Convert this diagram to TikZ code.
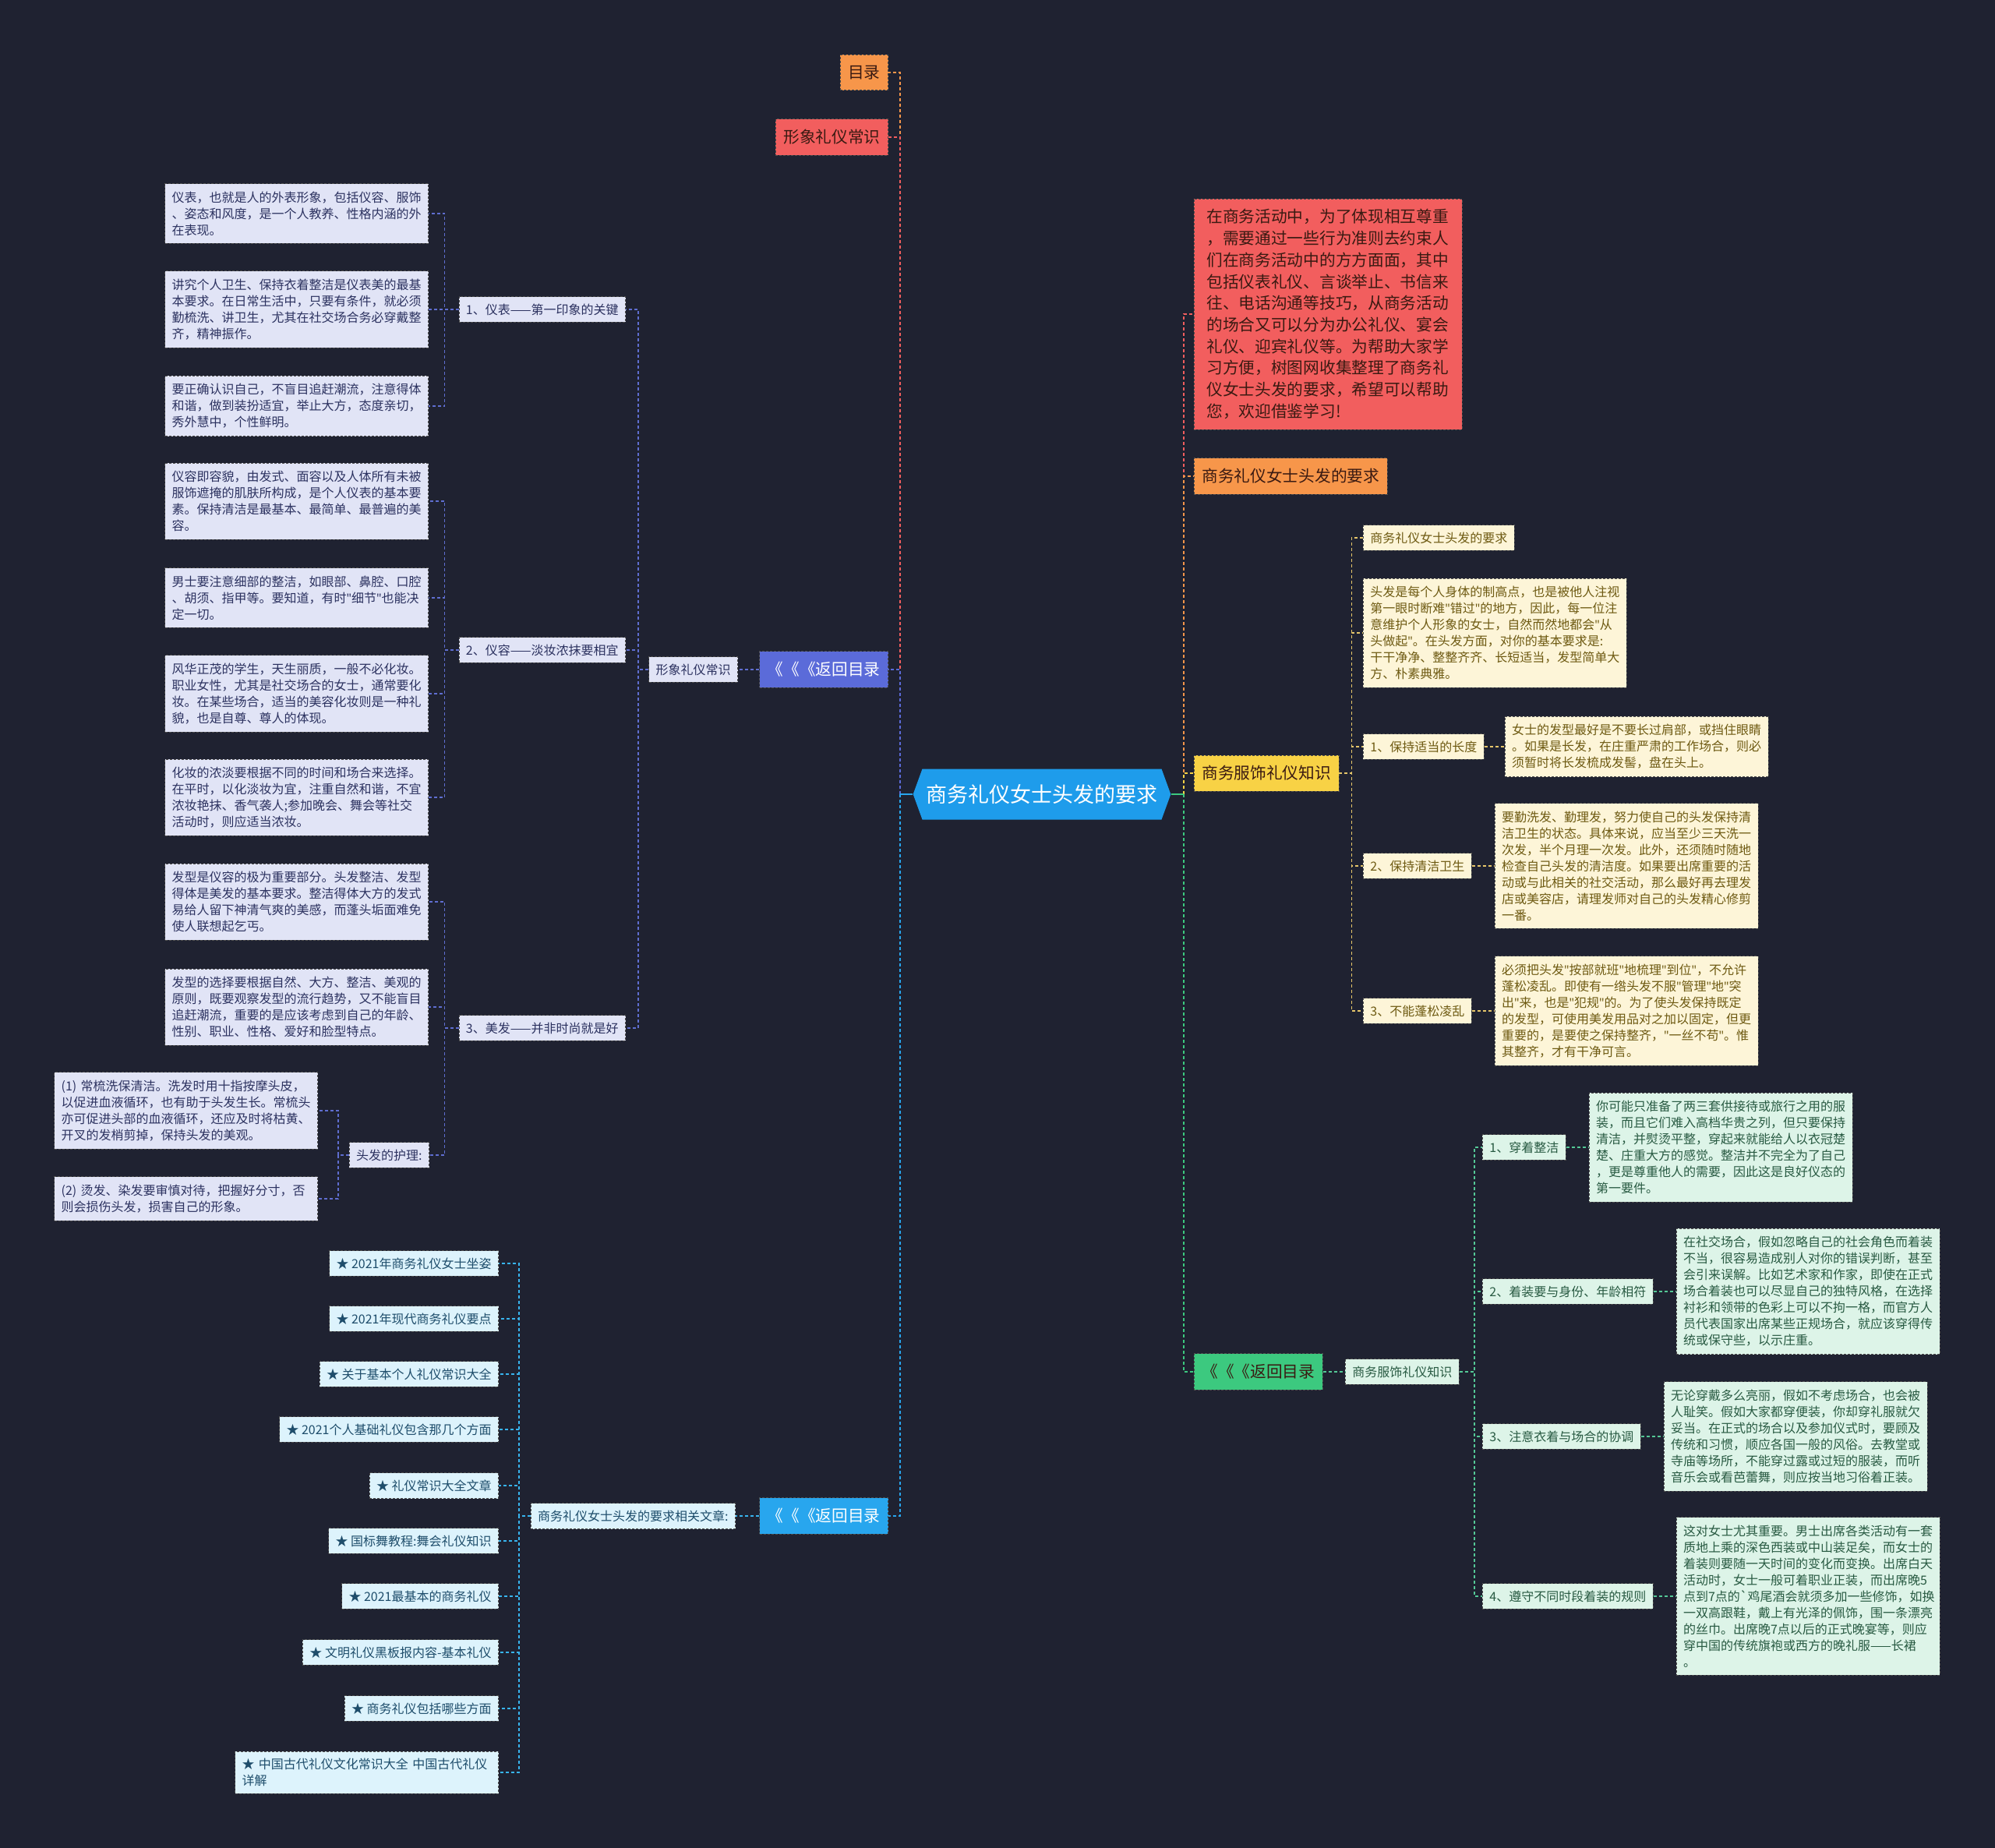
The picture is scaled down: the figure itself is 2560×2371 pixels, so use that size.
\documentclass[tikz,border=0pt]{standalone}
\usepackage{fontspec}
\setmainfont{Noto Sans CJK SC}
\newfontfamily\qfont{Noto Sans}
\newcommand{\dq}{{\qfont"}}
\usetikzlibrary{positioning, shapes.symbols}
\definecolor{bgdark}{HTML}{1F2231}
\definecolor{rootblue}{HTML}{1E9CEB}
\definecolor{orangeb}{HTML}{F7964A}
\definecolor{redb}{HTML}{F25E5E}
\definecolor{purpb}{HTML}{5B6BD9}
\definecolor{cyanb}{HTML}{28A6EE}
\definecolor{yellowb}{HTML}{F8D245}
\definecolor{greenb}{HTML}{3CC97F}
\definecolor{pfill}{HTML}{E1E4F6}
\definecolor{ptext}{HTML}{2C3260}
\definecolor{pline}{HTML}{5F6ED0}
\definecolor{cfill}{HTML}{DDF3FC}
\definecolor{ctext}{HTML}{1E4D6B}
\definecolor{cline}{HTML}{38B4EE}
\definecolor{yfill}{HTML}{FDF5D8}
\definecolor{ytext}{HTML}{6E5A12}
\definecolor{yline}{HTML}{E6C66A}
\definecolor{gfill}{HTML}{DDF4E8}
\definecolor{gtext}{HTML}{285A42}
\definecolor{gline}{HTML}{54C896}
\definecolor{darktxt}{HTML}{3A1A12}
\tikzset{
    root/.style={
        signal, signal to=west and east, signal pointer angle=140,
        fill=rootblue, draw=none, text=white,
        minimum height=65pt, inner xsep=5pt,
        font=\fontsize{27}{32}\selectfont
    },
    topic/.style={
        rectangle, draw=black!70, line width=0.8pt, dash pattern=on 3pt off 2pt,
        inner xsep=10pt, inner ysep=13.5pt, text=darktxt,
        font=\fontsize{20.7}{27.7}\selectfont, align=left
    },
    tag/.style={
        rectangle, draw=black!70, line width=0.8pt, dash pattern=on 3pt off 2pt,
        inner xsep=9pt, inner ysep=9pt,
        font=\fontsize{16}{21}\selectfont, align=left
    },
    leaf/.style={tag, text width=320pt, inner ysep=10pt},
    ptag/.style={tag, fill=pfill, text=ptext},
    pleaf/.style={leaf, fill=pfill, text=ptext},
    ctag/.style={tag, fill=cfill, text=ctext},
    ytag/.style={tag, fill=yfill, text=ytext},
    yleaf/.style={leaf, fill=yfill, text=ytext},
    gtag/.style={tag, fill=gfill, text=gtext},
    gleaf/.style={leaf, fill=gfill, text=gtext},
    mline/.style={draw=#1, line width=2pt, dash pattern=on 4pt off 3pt},
    sline/.style={draw=#1, line width=1.5pt, dash pattern=on 4pt off 3pt}
}

\begin{document}
\begin{tikzpicture}[x=1pt, y=-1pt]
    \fill[bgdark] (0,0) rectangle (2560,2371);
    \useasboundingbox (0,0) rectangle (2560,2371);

    \node[root] (root) at (1337,1019) {商务礼仪女士头发的要求};

    % left topics
    \node[topic, fill=orangeb, anchor=east] (mulu) at (1140,93) {目录};
    \node[topic, fill=redb, anchor=east] (xingxiang) at (1140,176) {形象礼仪常识};
    \node[topic, fill=purpb, text=white, anchor=east] (pback) at (1140,859) {《《《返回目录};
    \node[topic, fill=cyanb, text=white, anchor=east] (cback) at (1140,1945) {《《《返回目录};

    % right topics
    \node[topic, fill=redb, text width=312pt, inner xsep=16pt, anchor=west] (intro) at (1532,403)
        {在商务活动中，为了体现相互尊重\\，需要通过一些行为准则去约束人\\们在商务活动中的方方面面，其中\\包括仪表礼仪、言谈举止、书信来\\往、电话沟通等技巧，从商务活动\\的场合又可以分为办公礼仪、宴会\\礼仪、迎宾礼仪等。为帮助大家学\\习方便，树图网收集整理了商务礼\\仪女士头发的要求，希望可以帮助\\您，欢迎借鉴学习!};
    \node[topic, fill=orangeb, anchor=west] (req) at (1532,611) {商务礼仪女士头发的要求};
    \node[topic, fill=yellowb, anchor=west] (fushi) at (1532,992) {商务服饰礼仪知识};
    \node[topic, fill=greenb, anchor=west] (gback) at (1532,1760) {《《《返回目录};

    % purple branch
    \node[ptag, anchor=east] (psub) at (947,859) {形象礼仪常识};
    \node[ptag, anchor=east] (yibiao) at (803,397) {1、仪表——第一印象的关键};
    \node[ptag, anchor=east] (yirong) at (803,834) {2、仪容——淡妆浓抹要相宜};
    \node[ptag, anchor=east] (meifa) at (803,1319) {3、美发——并非时尚就是好};
    \node[pleaf, anchor=east] (t1) at (550,274)
        {仪表，也就是人的外表形象，包括仪容、服饰\\、姿态和风度，是一个人教养、性格内涵的外\\在表现。};
    \node[pleaf, anchor=east] (t2) at (550,397)
        {讲究个人卫生、保持衣着整洁是仪表美的最基\\本要求。在日常生活中，只要有条件，就必须\\勤梳洗、讲卫生，尤其在社交场合务必穿戴整\\齐，精神振作。};
    \node[pleaf, anchor=east] (t3) at (550,521)
        {要正确认识自己，不盲目追赶潮流，注意得体\\和谐，做到装扮适宜，举止大方，态度亲切，\\秀外慧中，个性鲜明。};
    \node[pleaf, anchor=east] (t4) at (550,643)
        {仪容即容貌，由发式、面容以及人体所有未被\\服饰遮掩的肌肤所构成，是个人仪表的基本要\\素。保持清洁是最基本、最简单、最普遍的美\\容。};
    \node[pleaf, anchor=east] (t5) at (550,767)
        {男士要注意细部的整洁，如眼部、鼻腔、口腔\\、胡须、指甲等。要知道，有时\dq{}细节\dq{}也能决\\定一切。};
    \node[pleaf, anchor=east] (t6) at (550,890)
        {风华正茂的学生，天生丽质，一般不必化妆。\\职业女性，尤其是社交场合的女士，通常要化\\妆。在某些场合，适当的美容化妆则是一种礼\\貌，也是自尊、尊人的体现。};
    \node[pleaf, anchor=east] (t7) at (550,1023)
        {化妆的浓淡要根据不同的时间和场合来选择。\\在平时，以化淡妆为宜，注重自然和谐，不宜\\浓妆艳抹、香气袭人;参加晚会、舞会等社交\\活动时，则应适当浓妆。};
    \node[pleaf, anchor=east] (t8) at (550,1157)
        {发型是仪容的极为重要部分。头发整洁、发型\\得体是美发的基本要求。整洁得体大方的发式\\易给人留下神清气爽的美感，而蓬头垢面难免\\使人联想起乞丐。};
    \node[pleaf, anchor=east] (t9) at (550,1292)
        {发型的选择要根据自然、大方、整洁、美观的\\原则，既要观察发型的流行趋势，又不能盲目\\追赶潮流，重要的是应该考虑到自己的年龄、\\性别、职业、性格、爱好和脸型特点。};
    \node[ptag, anchor=east] (huli) at (551,1482) {头发的护理:};
    \node[pleaf, anchor=east] (h1) at (408,1425)
        {(1) 常梳洗保清洁。洗发时用十指按摩头皮，\\以促进血液循环，也有助于头发生长。常梳头\\亦可促进头部的血液循环，还应及时将枯黄、\\开叉的发梢剪掉，保持头发的美观。};
    \node[pleaf, anchor=east] (h2) at (408,1538)
        {(2) 烫发、染发要审慎对待，把握好分寸，否\\则会损伤头发，损害自己的形象。};

    % cyan branch
    \node[ctag, anchor=east] (rel) at (944,1945) {商务礼仪女士头发的要求相关文章:};
    \node[ctag, anchor=east] (a1) at (640,1621) {★ 2021年商务礼仪女士坐姿};
    \node[ctag, anchor=east] (a2) at (640,1692) {★ 2021年现代商务礼仪要点};
    \node[ctag, anchor=east] (a3) at (640,1763) {★ 关于基本个人礼仪常识大全};
    \node[ctag, anchor=east] (a4) at (640,1834) {★ 2021个人基础礼仪包含那几个方面};
    \node[ctag, anchor=east] (a5) at (640,1906) {★ 礼仪常识大全文章};
    \node[ctag, anchor=east] (a6) at (640,1977) {★ 国标舞教程:舞会礼仪知识};
    \node[ctag, anchor=east] (a7) at (640,2048) {★ 2021最基本的商务礼仪};
    \node[ctag, anchor=east] (a8) at (640,2120) {★ 文明礼仪黑板报内容-基本礼仪};
    \node[ctag, anchor=east] (a9) at (640,2192) {★ 商务礼仪包括哪些方面};
    \node[ctag, anchor=east, text width=320pt] (a10) at (640,2274) {★ 中国古代礼仪文化常识大全 中国古代礼仪\\详解};

    % yellow branch
    \node[ytag, anchor=west] (y0) at (1749,690) {商务礼仪女士头发的要求};
    \node[yleaf, anchor=west] (y1) at (1749,812)
        {头发是每个人身体的制高点，也是被他人注视\\第一眼时断难\dq{}错过\dq{}的地方，因此，每一位注\\意维护个人形象的女士，自然而然地都会\dq{}从\\头做起\dq{}。在头发方面，对你的基本要求是:\\干干净净、整整齐齐、长短适当，发型简单大\\方、朴素典雅。};
    \node[ytag, anchor=west] (y2) at (1749,958) {1、保持适当的长度};
    \node[yleaf, right=26pt of y2] (y2t)
        {女士的发型最好是不要长过肩部，或挡住眼睛\\。如果是长发，在庄重严肃的工作场合，则必\\须暂时将长发梳成发髻，盘在头上。};
    \node[ytag, anchor=west] (y3) at (1749,1111) {2、保持清洁卫生};
    \node[yleaf, right=29pt of y3] (y3t)
        {要勤洗发、勤理发，努力使自己的头发保持清\\洁卫生的状态。具体来说，应当至少三天洗一\\次发，半个月理一次发。此外，还须随时随地\\检查自己头发的清洁度。如果要出席重要的活\\动或与此相关的社交活动，那么最好再去理发\\店或美容店，请理发师对自己的头发精心修剪\\一番。};
    \node[ytag, anchor=west] (y4) at (1749,1297) {3、不能蓬松凌乱};
    \node[yleaf, right=29pt of y4] (y4t)
        {必须把头发\dq{}按部就班\dq{}地梳理\dq{}到位\dq{}，不允许\\蓬松凌乱。即使有一绺头发不服\dq{}管理\dq{}地\dq{}突\\出\dq{}来，也是\dq{}犯规\dq{}的。为了使头发保持既定\\的发型，可使用美发用品对之加以固定，但更\\重要的，是要使之保持整齐，\dq{}一丝不苟\dq{}。惟\\其整齐，才有干净可言。};

    % green branch
    \node[gtag, anchor=west] (gsub) at (1726,1760) {商务服饰礼仪知识};
    \node[gtag, anchor=west] (g1) at (1902,1472) {1、穿着整洁};
    \node[gleaf, right=29pt of g1] (g1t)
        {你可能只准备了两三套供接待或旅行之用的服\\装，而且它们难入高档华贵之列，但只要保持\\清洁，并熨烫平整，穿起来就能给人以衣冠楚\\楚、庄重大方的感觉。整洁并不完全为了自己\\，更是尊重他人的需要，因此这是良好仪态的\\第一要件。};
    \node[gtag, anchor=west] (g2) at (1902,1657) {2、着装要与身份、年龄相符};
    \node[gleaf, right=29pt of g2] (g2t)
        {在社交场合，假如忽略自己的社会角色而着装\\不当，很容易造成别人对你的错误判断，甚至\\会引来误解。比如艺术家和作家，即使在正式\\场合着装也可以尽显自己的独特风格，在选择\\衬衫和领带的色彩上可以不拘一格，而官方人\\员代表国家出席某些正规场合，就应该穿得传\\统或保守些，以示庄重。};
    \node[gtag, anchor=west] (g3) at (1902,1843) {3、注意衣着与场合的协调};
    \node[gleaf, right=29pt of g3] (g3t)
        {无论穿戴多么亮丽，假如不考虑场合，也会被\\人耻笑。假如大家都穿便装，你却穿礼服就欠\\妥当。在正式的场合以及参加仪式时，要顾及\\传统和习惯，顺应各国一般的风俗。去教堂或\\寺庙等场所，不能穿过露或过短的服装，而听\\音乐会或看芭蕾舞，则应按当地习俗着正装。};
    \node[gtag, anchor=west] (g4) at (1902,2048) {4、遵守不同时段着装的规则};
    \node[gleaf, right=29pt of g4] (g4t)
        {这对女士尤其重要。男士出席各类活动有一套\\质地上乘的深色西装或中山装足矣，而女士的\\着装则要随一天时间的变化而变换。出席白天\\活动时，女士一般可着职业正装，而出席晚5\\点到7点的\textasciigrave 鸡尾酒会就须多加一些修饰，如换\\一双高跟鞋，戴上有光泽的佩饰，围一条漂亮\\的丝巾。出席晚7点以后的正式晚宴等，则应\\穿中国的传统旗袍或西方的晚礼服——长裙\\。};

    % main connectors, left
    \draw[mline=orangeb] (root.west) ++(-16,0) |- (mulu.east);
    \draw[mline=redb] (root.west) ++(-16,0) |- (xingxiang.east);
    \draw[mline=purpb] (root.west) ++(-16,0) |- (pback.east);
    \draw[mline=cyanb] (root.west) ++(-16,0) |- (cback.east);
    \draw[cyanb, line width=2pt] (root.west) -- ++(-16,0);

    % main connectors, right
    \draw[mline=redb] (root.east) ++(16,0) |- (intro.west);
    \draw[mline=orangeb] (root.east) ++(16,0) |- (req.west);
    \draw[mline=yellowb] (root.east) ++(16,0) |- (fushi.west);
    \draw[mline=greenb] (root.east) ++(16,0) |- (gback.west);
    \draw[greenb, line width=2pt] (root.east) -- ++(16,0);

    % purple branch connectors
    \draw[sline=pline] (pback.west) -- (psub.east);
    \draw[sline=pline] (psub.west) -- ++(-13,0) |- (yibiao.east);
    \draw[sline=pline] (psub.west) -- ++(-13,0) |- (yirong.east);
    \draw[sline=pline] (psub.west) -- ++(-13,0) |- (meifa.east);
    \draw[sline=pline] (yibiao.west) -- ++(-18,0) |- (t1.east);
    \draw[sline=pline] (yibiao.west) -- ++(-18,0) |- (t2.east);
    \draw[sline=pline] (yibiao.west) -- ++(-18,0) |- (t3.east);
    \draw[sline=pline] (yirong.west) -- ++(-18,0) |- (t4.east);
    \draw[sline=pline] (yirong.west) -- ++(-18,0) |- (t5.east);
    \draw[sline=pline] (yirong.west) -- ++(-18,0) |- (t6.east);
    \draw[sline=pline] (yirong.west) -- ++(-18,0) |- (t7.east);
    \draw[sline=pline] (meifa.west) -- ++(-18,0) |- (t8.east);
    \draw[sline=pline] (meifa.west) -- ++(-18,0) |- (t9.east);
    \draw[sline=pline] (meifa.west) -- ++(-18,0) |- (huli.east);
    \draw[sline=pline] (huli.west) -- ++(-14,0) |- (h1.east);
    \draw[sline=pline] (huli.west) -- ++(-14,0) |- (h2.east);

    % cyan branch connectors
    \draw[sline=cline] (cback.west) -- (rel.east);
    \draw[sline=cline] (rel.west) -- ++(-15,0) |- (a1.east);
    \draw[sline=cline] (rel.west) -- ++(-15,0) |- (a2.east);
    \draw[sline=cline] (rel.west) -- ++(-15,0) |- (a3.east);
    \draw[sline=cline] (rel.west) -- ++(-15,0) |- (a4.east);
    \draw[sline=cline] (rel.west) -- ++(-15,0) |- (a5.east);
    \draw[sline=cline] (rel.west) -- ++(-15,0) |- (a6.east);
    \draw[sline=cline] (rel.west) -- ++(-15,0) |- (a7.east);
    \draw[sline=cline] (rel.west) -- ++(-15,0) |- (a8.east);
    \draw[sline=cline] (rel.west) -- ++(-15,0) |- (a9.east);
    \draw[sline=cline] (rel.west) -- ++(-15,0) |- (a10.east);

    % yellow branch connectors
    \draw[sline=yline] (fushi.east) -- ++(16,0) |- (y0.west);
    \draw[sline=yline] (fushi.east) -- ++(16,0) |- (y1.west);
    \draw[sline=yline] (fushi.east) -- ++(16,0) |- (y2.west);
    \draw[sline=yline] (fushi.east) -- ++(16,0) |- (y3.west);
    \draw[sline=yline] (fushi.east) -- ++(16,0) |- (y4.west);
    \draw[sline=yline] (y2.east) -- (y2t.west);
    \draw[sline=yline] (y3.east) -- (y3t.west);
    \draw[sline=yline] (y4.east) -- (y4t.west);

    % green branch connectors
    \draw[sline=gline] (gback.east) -- (gsub.west);
    \draw[sline=gline] (gsub.east) -- ++(19,0) |- (g1.west);
    \draw[sline=gline] (gsub.east) -- ++(19,0) |- (g2.west);
    \draw[sline=gline] (gsub.east) -- ++(19,0) |- (g3.west);
    \draw[sline=gline] (gsub.east) -- ++(19,0) |- (g4.west);
    \draw[sline=gline] (g1.east) -- (g1t.west);
    \draw[sline=gline] (g2.east) -- (g2t.west);
    \draw[sline=gline] (g3.east) -- (g3t.west);
    \draw[sline=gline] (g4.east) -- (g4t.west);
\end{tikzpicture}
\end{document}
